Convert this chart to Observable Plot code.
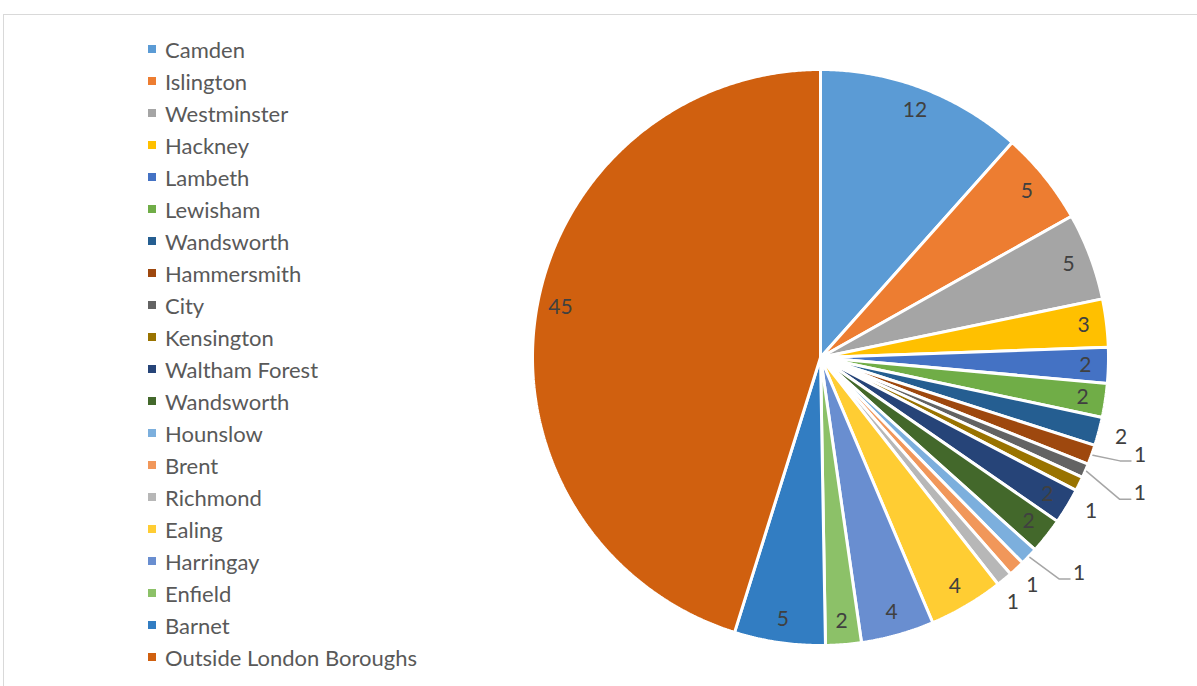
<!DOCTYPE html>
<html>
<head>
<meta charset="utf-8">
<script src="https://cdn.jsdelivr.net/npm/d3@7"></script>
<script src="https://cdn.jsdelivr.net/npm/@observablehq/plot@0.6"></script>
<style>
  html, body { margin: 0; padding: 0; background: #fff; overflow: hidden; }
  #wrap { position: relative; width: 1197px; height: 686px; overflow: hidden; }
  #frame { position: absolute; left: 3px; top: 14px; width: 1210px; height: 700px; border: 1px solid #d9d9d9; box-sizing: border-box; }
  #chart { position: absolute; left: 0; top: 0; }
  #legend { position: absolute; left: 148px; top: 33px; font-family: Lato, "Open Sans", sans-serif; font-size: 22px; color: #595959; }
  .row { height: 32px; display: flex; align-items: center; white-space: nowrap; }
  .sw { width: 8px; height: 8px; margin-right: 9px; flex: none; }
</style>
</head>
<body>
<div id="wrap">
  <div id="frame"></div>
  <div id="chart"></div>
  <div id="legend"></div>
</div>
<script>
// ---- data ----
const names = ["Camden", "Islington", "Westminster", "Hackney", "Lambeth", "Lewisham", "Wandsworth",
  "Hammersmith", "City", "Kensington", "Waltham Forest", "Wandsworth", "Hounslow", "Brent",
  "Richmond", "Ealing", "Harringay", "Enfield", "Barnet", "Outside London Boroughs"];
const values = [11.6, 5.25, 4.9, 2.7, 2.0, 1.9, 1.6, 1.1, 0.8, 0.8, 2.0, 2.0, 1.0, 0.9, 0.9, 4.2, 4.1, 2.0, 5.1, 45.2];
const colors = ["#5B9BD5", "#ED7D31", "#A5A5A5", "#FFC000", "#4472C4", "#70AD47", "#255E91",
  "#9E480E", "#636363", "#997300", "#264478", "#43682B", "#7CAFDD", "#F1975A",
  "#B7B7B7", "#FFCD33", "#698ED0", "#8CC168", "#327DC2", "#D0600F"];
// label placement: inside slice, just outside, or outside with a leader line
const labelMode = ["in", "in", "in", "in", "in", "in", "out", "lead", "lead", "out",
  "in", "in", "lead", "out", "out", "in", "in", "in", "in", "in"];
// leader elbow: radius factor and angle shift (degrees) for "lead" labels
const leaderRadius = {7: 1.10, 8: 1.15, 12: 1.13};
const leaderShift = {7: -0.7, 8: 2.2, 12: -0.8};
// angle shift (degrees) for some plain labels
const labelShift = {9: 3.5, 14: 1.5, 19: 2.3};

// ---- layout ----
const W = 1197, H = 686;
const CX = 820, CY = 357, R = 288;   // pie centre and radius in pixels
const xDomain = [-CX / R, (W - CX) / R];
const yDomain = [(CY - H) / R, CY / R];
const FONT = "Lato, 'Open Sans', sans-serif";

const total = d3.sum(values);
let cum = 0;
const slices = values.map((v, i) => {
  const a0 = cum / total * 2 * Math.PI;
  cum += v;
  const a1 = cum / total * 2 * Math.PI;
  return {i, name: names[i], value: v, color: colors[i], a0, a1, mid: (a0 + a1) / 2};
});

// polygon points for each slice (clock angle: 0 at top, clockwise)
const pts = [];
for (const s of slices) {
  pts.push({id: s.i, x: 0, y: 0, color: s.color});
  const n = Math.max(2, Math.ceil((s.a1 - s.a0) / (0.4 * Math.PI / 180)));
  for (let k = 0; k <= n; k++) {
    const a = s.a0 + (s.a1 - s.a0) * k / n;
    pts.push({id: s.i, x: Math.sin(a), y: Math.cos(a), color: s.color});
  }
  pts.push({id: s.i, x: 0, y: 0, color: s.color});
}

const labelPts = [];
const leaders = [];
const hOff = 11 / R;
for (const s of slices) {
  const m = labelMode[s.i];
  const t = String(Math.round(s.value));
  const la = s.mid + (labelShift[s.i] || 0) * Math.PI / 180;
  if (m === "in") {
    labelPts.push({x: 0.92 * Math.sin(la), y: 0.92 * Math.cos(la), t, anchor: "middle"});
  } else if (m === "out") {
    labelPts.push({x: 1.08 * Math.sin(la), y: 1.08 * Math.cos(la), t, anchor: "middle"});
  } else {
    const ea = s.mid + (leaderShift[s.i] || 0) * Math.PI / 180;
    const er = leaderRadius[s.i] || 1.12;
    const ex = er * Math.sin(ea), ey = er * Math.cos(ea);
    leaders.push({id: s.i, x: 1.005 * Math.sin(s.mid), y: 1.005 * Math.cos(s.mid)});
    leaders.push({id: s.i, x: ex, y: ey});
    leaders.push({id: s.i, x: ex + hOff, y: ey});
    labelPts.push({x: ex + hOff, y: ey + 6 / R, t, anchor: "start"});
  }
}

const plot = Plot.plot({
  width: W, height: H,
  margin: 0,
  x: {domain: xDomain, axis: null},
  y: {domain: yDomain, axis: null},
  color: {type: "identity"},
  style: {background: "transparent", overflow: "visible"},
  marks: [
    Plot.line(pts, {x: "x", y: "y", z: "id", fill: "color", stroke: "#fff", strokeWidth: 3, curve: "linear", strokeLinejoin: "miter"}),
    Plot.line(leaders, {x: "x", y: "y", z: "id", stroke: "#A6A6A6", strokeWidth: 1.5, curve: "linear"}),
    Plot.text(labelPts.filter(d => d.anchor === "middle"), {x: "x", y: "y", text: "t", fill: "#404040", fontSize: 21, fontFamily: FONT, textAnchor: "middle"}),
    Plot.text(labelPts.filter(d => d.anchor === "start"), {x: "x", y: "y", text: "t", fill: "#404040", fontSize: 21, fontFamily: FONT, textAnchor: "start", dx: 3})
  ]
});
document.getElementById("chart").appendChild(plot);

// legend
const lg = document.getElementById("legend");
names.forEach((n, i) => {
  const row = document.createElement("div");
  row.className = "row";
  const sw = document.createElement("span");
  sw.className = "sw";
  sw.style.background = colors[i];
  const tx = document.createElement("span");
  tx.textContent = n;
  row.appendChild(sw);
  row.appendChild(tx);
  lg.appendChild(row);
});
</script>
</body>
</html>
